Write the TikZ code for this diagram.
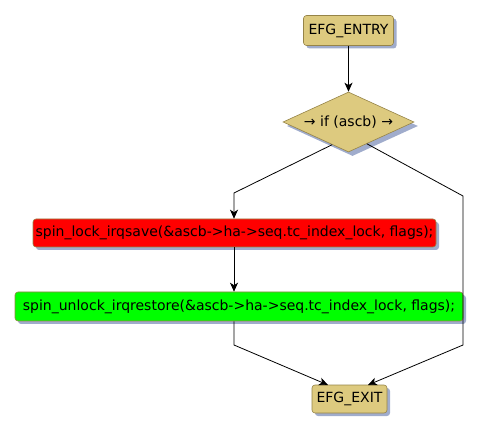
\documentclass[tikz,border=0pt]{standalone}
\usepackage{fontspec}
\setmainfont{DejaVu Sans}
\usetikzlibrary{shapes.geometric,shadows,arrows.meta,calc}

\definecolor{efgtan}{RGB}{221,202,127}
\definecolor{efgrim}{RGB}{150,132,72}
\definecolor{efgshade}{RGB}{160,172,204}

\tikzset{
    efgbox/.style={draw=efgrim, line width=0.6pt, rounded corners=3pt,
        inner sep=0pt, font=\fontsize{14}{16}\selectfont,
        drop shadow={shadow xshift=3pt, shadow yshift=-3pt, fill=efgshade, opacity=1}},
    efgcond/.style={diamond, aspect=2.18, draw=efgrim, fill=efgtan, line width=0.6pt,
        inner sep=0pt, font=\fontsize{14}{16}\selectfont,
        drop shadow={shadow xshift=4pt, shadow yshift=-4pt, fill=efgshade, opacity=1}},
    efgflow/.style={draw=black, line width=0.8pt, -{Stealth[length=9pt,width=8pt,inset=2.5pt]}},
}

\begin{document}
\begin{tikzpicture}[x=1pt, y=-1pt]
    \useasboundingbox (0,0) rectangle (479,435);
%
    \node[efgbox, fill=efgtan, minimum width=90pt, minimum height=30pt]
        (entry) at (348.5,30.5) {EFG\_ENTRY};
    \node[efgcond, minimum width=131pt, minimum height=60pt]
        (cond) at (348.5,122) {→ if (ascb) →};
    \node[efgbox, fill=red, minimum width=403pt, minimum height=28pt]
        (lock) at (234.5,233) {spin\_lock\_irqsave(\&ascb->ha->seq.tc\_index\_lock, flags);};
    \node[efgbox, fill=green, minimum width=448pt, minimum height=29pt]
        (unlock) at (239,306.5) {spin\_unlock\_irqrestore(\&ascb->ha->seq.tc\_index\_lock, flags);};
    \node[efgbox, fill=efgtan, minimum width=75pt, minimum height=28pt]
        (exit) at (349.5,399) {EFG\_EXIT};
%
    \coordinate (condL) at ($(cond.west)!0.75!(cond.south)$);
    \coordinate (condR) at ($(cond.east)!0.72!(cond.south)$);
    \coordinate (bendL) at (234,193);
    \coordinate (bendR) at (463,196);
    \coordinate (joinL) at (234,345);
    \coordinate (joinR) at (463,345);
    \coordinate (exitL) at (328,385);
    \coordinate (exitR) at (368,385);
%
    \draw[efgflow] (entry) -- (cond);
    \draw[efgflow] (condL) -- (bendL) -- (bendL |- lock.north);
    \draw[efgflow] (bendL |- lock.south) -- (bendL |- unlock.north);
    \draw[efgflow] (bendL |- unlock.south) -- (joinL) -- (exitL);
    \draw[efgflow] (condR) -- (bendR) -- (joinR) -- (exitR);
\end{tikzpicture}
\end{document}
